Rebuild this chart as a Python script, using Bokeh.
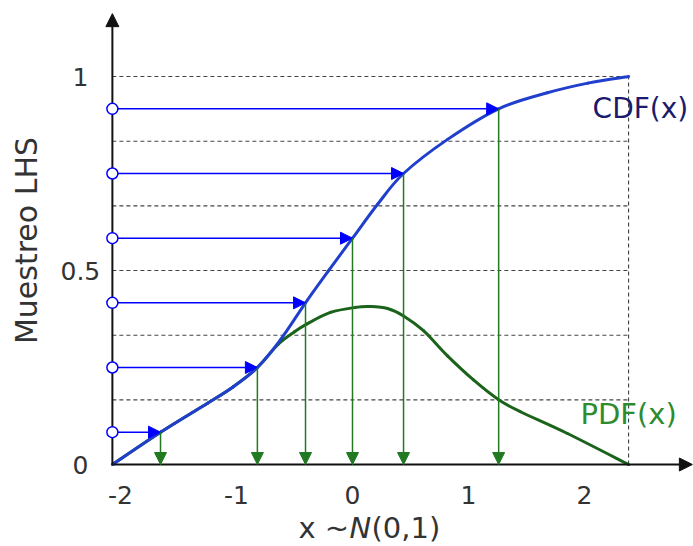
import math
from bokeh.plotting import figure
from bokeh.models import ColumnDataSource, Arrow, NormalHead, Range1d
from bokeh.core.properties import value
from bokeh.embed import file_html
from bokeh.resources import INLINE

# ---------------- data ----------------
lhs_prob = [1/12, 3/12, 5/12, 7/12, 9/12, 11/12]          # LHS sample levels (circles on y-axis)
lhs_x = [-1.655, -0.82, -0.405, 0.0, 0.44, 1.26]          # inverse-CDF samples (green arrows)

cdf_x = [-2.07, -1.655, -1.25, -1.03, -0.82, -0.62, -0.405, -0.2, 0.0,
         0.22, 0.44, 0.82, 1.26, 1.68, 2.03, 2.38]
cdf_y = [0.0, 0.0833, 0.158, 0.2, 0.25, 0.322, 0.4167, 0.502, 0.5833,
         0.672, 0.75, 0.838, 0.9167, 0.958, 0.983, 1.0]

pdf_x = [-2.07, -1.655, -1.25, -1.03, -0.82, -0.64, -0.5, -0.388, -0.19, 0.026,
         0.155, 0.302, 0.44, 0.612, 0.819, 1.043, 1.26, 1.448, 1.853, 2.38]
pdf_y = [0.0, 0.0833, 0.158, 0.2, 0.25, 0.31, 0.342, 0.363, 0.392, 0.405,
         0.407, 0.402, 0.383, 0.345, 0.28, 0.218, 0.167, 0.136, 0.08, 0.0]

strata = [1/6, 2/6, 3/6, 4/6, 5/6, 1.0]
x_ticks = [-2, -1, 0, 1, 2]
x_tick_labels = ["-2", "-1", "0", "1", "2"]
y_ticks = [0, 0.5, 1]
y_tick_labels = ["0", "0.5", "1"]

x_min, x_max = -2.07, 2.38       # drawn extent of the curves
x_axis_end, y_axis_end = 2.93, 1.162

FONT = value("DejaVu Sans")


def smooth_segments(xs, ys):
    """Catmull-Rom style control points so the read points are joined by Bezier curves."""
    n = len(xs)
    d = dict(x0=[], y0=[], x1=[], y1=[], cx0=[], cy0=[], cx1=[], cy1=[])
    for i in range(n - 1):
        im, ip, ipp = max(i - 1, 0), i + 1, min(i + 2, n - 1)
        d["x0"].append(xs[i]); d["y0"].append(ys[i])
        d["x1"].append(xs[ip]); d["y1"].append(ys[ip])
        d["cx0"].append(xs[i] + (xs[ip] - xs[im]) / 6)
        d["cy0"].append(ys[i] + (ys[ip] - ys[im]) / 6)
        d["cx1"].append(xs[ip] - (xs[ipp] - xs[i]) / 6)
        d["cy1"].append(ys[ip] - (ys[ipp] - ys[i]) / 6)
    return ColumnDataSource(d)


p = figure(width=693, height=546, output_backend="svg", toolbar_location=None,
           x_range=Range1d(-3.0345, 2.9397), y_range=Range1d(-0.2113, 1.1959),
           x_axis_location=None, y_axis_location=None, min_border=0,
           outline_line_color=None, background_fill_color="white",
           border_fill_color="white")
p.grid.grid_line_color = None

# dashed strata lines
p.segment(x0=[x_min] * len(strata), y0=strata, x1=[x_max] * len(strata), y1=strata,
          line_color="#444444", line_width=1.1, line_dash="4 3")
p.segment(x0=[x_max], y0=[0], x1=[x_max], y1=[1],
          line_color="#444444", line_width=1.1, line_dash="4 3")

# curves
p.bezier(x0="x0", y0="y0", x1="x1", y1="y1", cx0="cx0", cy0="cy0", cx1="cx1", cy1="cy1",
         source=smooth_segments(pdf_x, pdf_y), line_color="#1b631b", line_width=3,
         line_cap="round")
p.bezier(x0="x0", y0="y0", x1="x1", y1="y1", cx0="cx0", cy0="cy0", cx1="cx1", cy1="cy1",
         source=smooth_segments(cdf_x, cdf_y), line_color="#1f3fcc", line_width=3,
         line_cap="round")

# axes with arrows
p.add_layout(Arrow(end=NormalHead(size=13, fill_color="#111111", line_color="#111111"),
                   x_start=x_min, y_start=0, x_end=x_axis_end, y_end=0,
                   line_color="#111111", line_width=2))
p.add_layout(Arrow(end=NormalHead(size=13, fill_color="#111111", line_color="#111111"),
                   x_start=x_min, y_start=0, x_end=x_min, y_end=y_axis_end,
                   line_color="#111111", line_width=2))

# blue arrows: sample level -> CDF
blue_src = ColumnDataSource(dict(x0=[x_min] * 6, y0=lhs_prob, x1=lhs_x, y1=lhs_prob))
p.add_layout(Arrow(end=NormalHead(size=12, fill_color="#0000ff", line_color="#0000ff", line_width=1),
                   source=blue_src, x_start="x0", y_start="y0", x_end="x1", y_end="y1",
                   line_color="#0000ff", line_width=1.5))

# green arrows: CDF -> x axis
green_src = ColumnDataSource(dict(x0=lhs_x, y0=lhs_prob, x1=lhs_x, y1=[0] * 6))
p.add_layout(Arrow(end=NormalHead(size=12, fill_color="#217a21", line_color="#217a21", line_width=1),
                   source=green_src, x_start="x0", y_start="y0", x_end="x1", y_end="y1",
                   line_color="#217a21", line_width=1.5))

# circles on the y-axis
c = p.scatter(x=[x_min] * 6, y=lhs_prob, size=11, fill_color="white",
              line_color="#0000ff", line_width=1.5)
c.level = "overlay"

# tick labels
p.text(x=x_ticks, y=[0] * len(x_ticks), text=x_tick_labels, y_offset=30,
       text_align="center", text_baseline="middle", text_font=FONT,
       text_font_size="25px", text_color="#333333")
p.text(x=[x_min] * len(y_ticks), y=y_ticks, text=y_tick_labels, x_offset=-32,
       text_align="center", text_baseline="middle", text_font=FONT,
       text_font_size="25px", text_color="#333333")

# axis titles
p.text(x=[x_min], y=[0.5], text=["Muestreo LHS"], x_offset=-86, y_offset=-30,
       angle=math.pi / 2, text_align="center", text_baseline="middle",
       text_font=FONT, text_font_size="30px", text_color="#333333")
p.text(x=[-0.466], y=[0], text=["x ~"], y_offset=63, text_align="left",
       text_baseline="middle", text_font=FONT, text_font_size="29px", text_color="#333333")
p.text(x=[-0.466], y=[0], text=["N"], x_offset=51, y_offset=63, text_align="left",
       text_baseline="middle", text_font=FONT, text_font_size="29px",
       text_font_style="italic", text_color="#333333")
p.text(x=[-0.466], y=[0], text=["(0,1)"], x_offset=73, y_offset=63, text_align="left",
       text_baseline="middle", text_font=FONT, text_font_size="29px", text_color="#333333")

# curve labels
p.text(x=[2.07], y=[0.917], text=["CDF(x)"], text_align="left", text_baseline="middle",
       text_font=FONT, text_font_size="28px", text_color="#1a1a6e")
p.text(x=[1.966], y=[0.129], text=["PDF(x)"], text_align="left", text_baseline="middle",
       text_font=FONT, text_font_size="29px", text_color="#2e8b2e")

open("out.html", "w").write(file_html(p, INLINE))
